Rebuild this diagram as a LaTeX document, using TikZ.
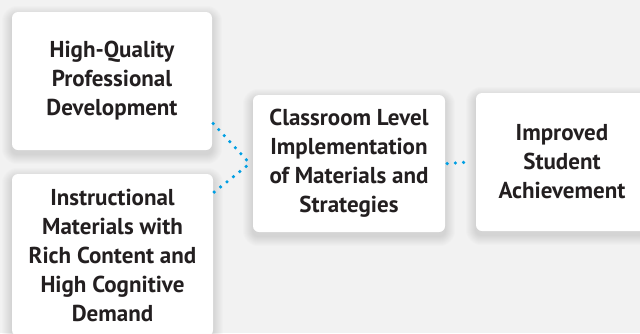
\documentclass[tikz,border=0pt]{standalone}
\usepackage{fontspec}
\setmainfont{PT Sans}
\definecolor{bgcol}{HTML}{F2F2F2}
\definecolor{txtcol}{HTML}{231F20}
\definecolor{dotcol}{HTML}{009FE3}
\pgfdeclarelayer{bg}
\pgfsetlayers{bg,main}
\begin{document}
\begin{tikzpicture}[x=1pt,y=-1pt,
    box/.style={fill=white,rounded corners=6pt,align=center,inner sep=0pt,
      text=txtcol,font=\bfseries\fontsize{23}{29}\selectfont},
    link/.style={draw=dotcol,line width=3.6pt,line cap=round,dash pattern=on 0pt off 8.2pt}]
      \useasboundingbox (0,0) rectangle (640,333);
      \draw
        (112,81) node[box,minimum width=200pt,minimum height=138pt] (0){High-Quality\\Professional\\Development}
        (112.5,255) node[box,minimum width=201pt,minimum height=162pt] (1){Instructional\\Materials with\\Rich Content and\\High Cognitive\\Demand}
        (349,163.5) node[box,minimum width=192pt,minimum height=137pt] (2){Classroom Level\\Implementation\\of Materials and\\Strategies}
        (562,162) node[box,minimum width=172pt,minimum height=138pt] (3){Improved\\Student\\Achievement};
      % soft shadows behind the boxes
      \begin{pgfonlayer}{bg}
        \fill[bgcol] (0,0) rectangle (640,333);
        \foreach \n in {0,1,2,3}
          \foreach \k in {1,...,10}
            \fill[black,opacity=0.011,rounded corners=6pt+\k pt]
              ([shift={(-\k,-\k+4)}]\n.north west) rectangle ([shift={(\k,\k+4)}]\n.south east);
      \end{pgfonlayer}
      \begin{scope}[link]
        \draw ([xshift=1pt]0.-23.5) -- ([xshift=-3pt]2.west);
        \draw ([xshift=1pt]1.32) -- ([xshift=-3pt]2.west);
        \draw ([xshift=2pt]2.east) -- ([xshift=-6pt]3.west);
      \end{scope}
    \end{tikzpicture}
\end{document}
